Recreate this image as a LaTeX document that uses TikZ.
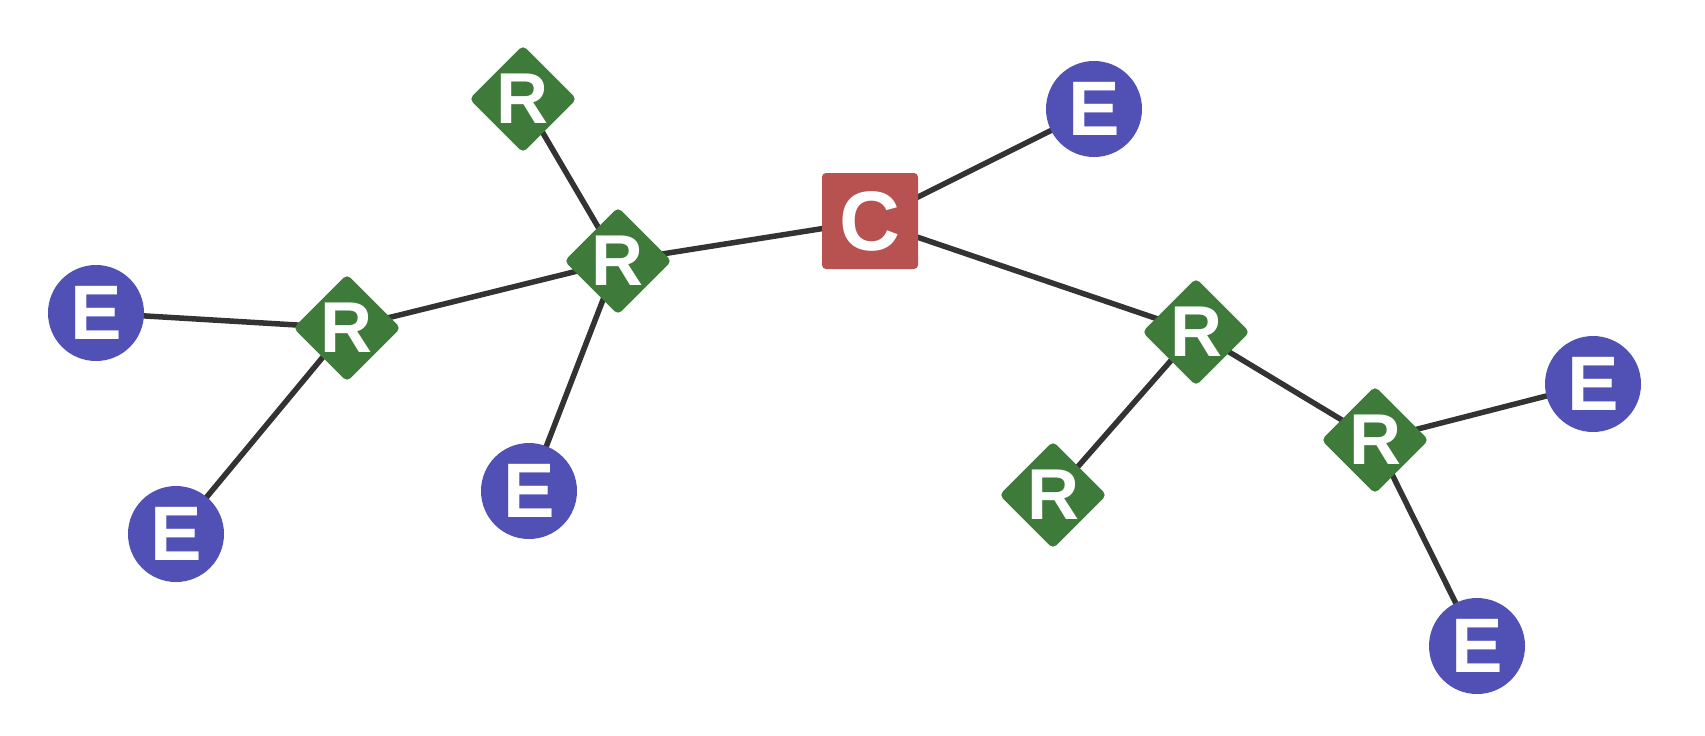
\documentclass[tikz,border=0pt]{standalone}
\usepackage{fontspec}
\setmainfont{Liberation Sans}
\usepackage{xcolor}
\usetikzlibrary{shapes.geometric, backgrounds}
\definecolor{rgreen}{HTML}{3E7A3A}
\definecolor{eblue}{HTML}{5050B5}
\definecolor{cred}{HTML}{B85250}
\definecolor{wire}{HTML}{333333}

\begin{document}
\begin{tikzpicture}[x = 0.1mm, y = -0.1mm,
		lbl/.style = {text = white, font = \bfseries\fontsize{#1}{#1}\selectfont, inner sep = 0pt},
		rnode/.style = {diamond, fill = rgreen, minimum size = 10.8mm, inner sep = 0pt, rounded corners = 0.5mm, label = {[lbl = 20.5]center:#1}},
		enode/.style = {lbl = 22, circle, fill = eblue, minimum size = 9.6mm},
		cnode/.style = {lbl = 24, rectangle, fill = cred, minimum size = 9.6mm, rounded corners = 0.4mm},
		link/.style = {draw = wire, line width = 0.55mm}]
		\useasboundingbox (0,0) rectangle (1705,735);
		\node[cnode] (c) at (870,221) {C};
		\node[rnode = R] (r1) at (523,99) {};
		\node[rnode = R] (r2) at (618,261) {};
		\node[rnode = R] (r3) at (347,328) {};
		\node[rnode = R] (r4) at (1196,332) {};
		\node[rnode = R] (r5) at (1053,495) {};
		\node[rnode = R] (r6) at (1375,440) {};
		\node[enode] (e1) at (1094,109) {E};
		\node[enode] (e2) at (96,313) {E};
		\node[enode] (e3) at (176,534) {E};
		\node[enode] (e4) at (529,491) {E};
		\node[enode] (e5) at (1593,384) {E};
		\node[enode] (e6) at (1477,646) {E};
		\begin{scope}[on background layer]
			\draw[link] (c.center) -- (e1.center);
			\draw[link] (c.center) -- (r2.center);
			\draw[link] (c.center) -- (r4.center);
			\draw[link] (r2.center) -- (r1.center);
			\draw[link] (r2.center) -- (r3.center);
			\draw[link] (r2.center) -- (e4.center);
			\draw[link] (r3.center) -- (e2.center);
			\draw[link] (r3.center) -- (e3.center);
			\draw[link] (r4.center) -- (r5.center);
			\draw[link] (r4.center) -- (r6.center);
			\draw[link] (r6.center) -- (e5.center);
			\draw[link] (r6.center) -- (e6.center);
		\end{scope}
	\end{tikzpicture}
\end{document}
